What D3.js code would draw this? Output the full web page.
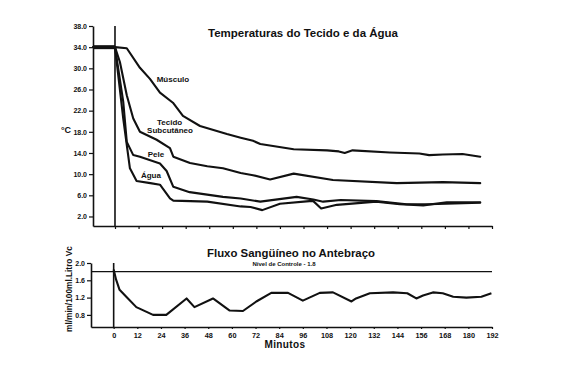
<!DOCTYPE html>
<html><head><meta charset="utf-8">
<script src="https://cdn.jsdelivr.net/npm/d3@7"></script>
<style>
html,body{margin:0;padding:0;background:#fff;}
svg{display:block;font-family:"Liberation Sans",Arial,sans-serif;}
</style></head><body>
<svg id="c" width="563" height="378"></svg>
<script>
// ---- data ----
const tempTicks = [2, 6, 10, 14, 18, 22, 26, 30, 34, 38];
const tempTickLabels = ["2.0","6.0","10.0","14.0","18.0","22.0","26.0","30.0","34.0","38.0"];
const minuteTicks = [0,12,24,36,48,60,72,84,96,108,120,132,144,156,168,180,192];
const flowTicks = [0.8, 1.2, 1.6, 2.0];
const flowTickLabels = ["0.8","1.2","1.6","2.0"];

const musculoT = [-11, 0, 6, 12.7, 17.8, 22.9, 29.5, 34.6, 43.3, 57, 64, 70.3, 74, 91, 108, 114, 117, 121, 140, 155, 160, 167, 177, 186];
const musculoV = [34, 34, 33.8, 30.1, 28.0, 25.4, 23.5, 21.0, 19.1, 17.6, 16.9, 16.3, 15.7, 14.7, 14.5, 14.3, 14.0, 14.5, 14.1, 13.9, 13.6, 13.7, 13.8, 13.3];

const tecidoT = [-11, 0, 2.5, 6, 9.3, 12.7, 21.2, 28, 29.7, 38.2, 47, 55, 64, 70.3, 79, 91, 111, 143.5, 167, 186];
const tecidoV = [34, 34, 31.2, 24.9, 20.5, 18.0, 16.5, 14.9, 13.3, 12.1, 11.5, 11.1, 10.2, 9.8, 9.0, 10.1, 8.9, 8.3, 8.5, 8.3];

const peleT = [-11, 0, 4.2, 6, 9.3, 12.7, 22.9, 26.3, 29.7, 38, 55, 64, 74, 92.5, 101, 106, 115, 133, 148.5, 160, 186];
const peleV = [34, 34, 23.7, 16.1, 13.6, 13.3, 12.0, 10.6, 7.6, 6.6, 5.7, 5.4, 4.8, 5.7, 5.2, 4.8, 5.1, 4.9, 4.3, 4.3, 4.6];

const aguaT = [-11, 0, 4.2, 7.6, 11, 18, 22.9, 28, 29.7, 47, 64, 69, 75, 84, 99, 101, 105, 113, 133, 145, 157, 169, 186];
const aguaV = [34, 34, 20.5, 11.1, 8.7, 8.3, 8.0, 5.4, 5.0, 4.8, 3.9, 3.8, 3.2, 4.4, 4.9, 4.9, 3.5, 4.2, 4.8, 4.3, 4.1, 4.7, 4.7];

const fluxoT = [0, 1.2, 3, 6.4, 11.5, 20, 26.7, 37, 41, 50.4, 58.9, 65.6, 72.4, 80, 88.5, 96, 104.6, 111.3, 120.7, 123, 130, 141.8, 149, 153.6, 157, 162, 167, 172.3, 179, 186.6, 191.7];
const fluxoV = [1.85, 1.62, 1.38, 1.22, 0.98, 0.80, 0.80, 1.18, 0.98, 1.18, 0.90, 0.89, 1.11, 1.31, 1.31, 1.13, 1.31, 1.32, 1.11, 1.18, 1.30, 1.32, 1.30, 1.18, 1.25, 1.32, 1.30, 1.22, 1.20, 1.22, 1.30];
const controlLevel = 1.8;

const seriesLabels = [
  {name:"Músculo", t:29.5, v:27.4},
  {name:"Tecido", t:27.8, v:19.3},
  {name:"Subcutâneo", t:28, v:17.8},
  {name:"Pele", t:20.9, v:13.2},
  {name:"Água", t:18.3, v:9.3}
];

// ---- drawing ----
const svg = d3.select("#c");
const ink = "#111";
const FONT = '"Liberation Sans",Arial,sans-serif';

// top panel scales
const xT = d3.scaleLinear().domain([-11.2, 192]).range([93, 492]);
const yT = d3.scaleLinear().domain([0.2, 38]).range([226, 26]);
// bottom panel scales
const xB = d3.scaleLinear().domain([-11.5, 192]).range([91, 492]);
const yB = d3.scaleLinear().domain([0.52, 2.0]).range([327, 263]);

function styleAxis(g, fs){
  g.select(".domain").attr("stroke", ink).attr("stroke-width", 1.6);
  g.selectAll(".tick line").attr("stroke", ink).attr("stroke-width", 1.2);
  g.selectAll(".tick text").attr("fill", ink).attr("font-size", fs).attr("font-weight","bold").attr("font-family", FONT);
}

// top axes
const gyT = svg.append("g").attr("transform", `translate(${xT(-11.2)},0)`)
  .call(d3.axisLeft(yT).tickValues(tempTicks).tickFormat((d,i)=>tempTickLabels[i]).tickSize(4).tickSizeOuter(0).tickPadding(2));
styleAxis(gyT, 7);
const gxT = svg.append("g").attr("transform", `translate(0,${yT(0.2)})`)
  .call(d3.axisBottom(xT).tickValues(minuteTicks).tickFormat("").tickSize(3).tickSizeOuter(0));
styleAxis(gxT, 7);

// zero marker line (top)
svg.append("line").attr("x1", xT(0)).attr("x2", xT(0)).attr("y1", yT(38)).attr("y2", yT(0.2))
  .attr("stroke", ink).attr("stroke-width", 1.6);

const lineT = (ts, vs) => d3.line().x((d,i)=>xT(ts[i])).y((d,i)=>yT(vs[i])).curve(d3.curveLinear)(vs);
[[musculoT,musculoV],[tecidoT,tecidoV],[peleT,peleV],[aguaT,aguaV]].forEach(([t,v])=>{
  svg.append("path").attr("d", lineT(t,v)).attr("fill","none").attr("stroke",ink)
    .attr("stroke-width",2.1).attr("stroke-linejoin","round").attr("stroke-linecap","round");
});
// thick pre-period band at 34
svg.append("line").attr("x1", xT(-11.2)).attr("x2", xT(0)).attr("y1", yT(34)).attr("y2", yT(34))
  .attr("stroke", ink).attr("stroke-width", 4);

seriesLabels.forEach(s=>{
  svg.append("text").attr("x", xT(s.t)).attr("y", yT(s.v)).attr("text-anchor","middle")
    .attr("font-size",8).attr("font-weight","bold").attr("fill",ink).attr("font-family",FONT).text(s.name);
});

svg.append("text").attr("x", 303).attr("y", 37).attr("text-anchor","middle")
  .attr("font-size",11.5).attr("font-weight","bold").attr("fill",ink).text("Temperaturas do Tecido e da Água");
svg.append("text").attr("x", 66).attr("y", 133).attr("text-anchor","middle")
  .attr("font-size",9).attr("font-weight","bold").attr("fill",ink).text("°C");

// bottom axes
const gyB = svg.append("g").attr("transform", `translate(${xB(-11.5)},0)`)
  .call(d3.axisLeft(yB).tickValues(flowTicks).tickFormat((d,i)=>flowTickLabels[i]).tickSize(4).tickSizeOuter(0).tickPadding(2));
styleAxis(gyB, 7);
const gxB = svg.append("g").attr("transform", `translate(0,${yB(0.52)})`)
  .call(d3.axisBottom(xB).tickValues(minuteTicks).tickSize(2).tickSizeOuter(0).tickPadding(4));
styleAxis(gxB, 7.3);

svg.append("line").attr("x1", xB(0)).attr("x2", xB(0)).attr("y1", yB(2.0)).attr("y2", yB(0.52))
  .attr("stroke", ink).attr("stroke-width", 1.6);
svg.append("line").attr("x1", xB(-11.5)).attr("x2", xB(192)).attr("y1", yB(controlLevel)).attr("y2", yB(controlLevel))
  .attr("stroke", ink).attr("stroke-width", 1.4);

svg.append("path").attr("d", d3.line().x((d,i)=>xB(fluxoT[i])).y((d,i)=>yB(fluxoV[i]))(fluxoV))
  .attr("fill","none").attr("stroke",ink).attr("stroke-width",2.1).attr("stroke-linejoin","round");

svg.append("text").attr("x", 291).attr("y", 257).attr("text-anchor","middle")
  .attr("font-size",11.4).attr("font-weight","bold").attr("fill",ink).text("Fluxo Sangüíneo no Antebraço");
svg.append("text").attr("x", 284).attr("y", 266).attr("text-anchor","middle")
  .attr("font-size",6).attr("font-weight","bold").attr("fill",ink).text("Nível de Controle - 1.8");
svg.append("text").attr("x", 285).attr("y", 348).attr("text-anchor","middle")
  .attr("font-size",10).attr("font-weight","bold").attr("letter-spacing",0.4).attr("fill",ink).text("Minutos");
svg.append("text").attr("transform","translate(72,289) rotate(-90)").attr("text-anchor","middle")
  .attr("font-size",8.3).attr("font-weight","bold").attr("fill",ink).text("ml/min/100ml.Litro Vc");
</script>
</body></html>
